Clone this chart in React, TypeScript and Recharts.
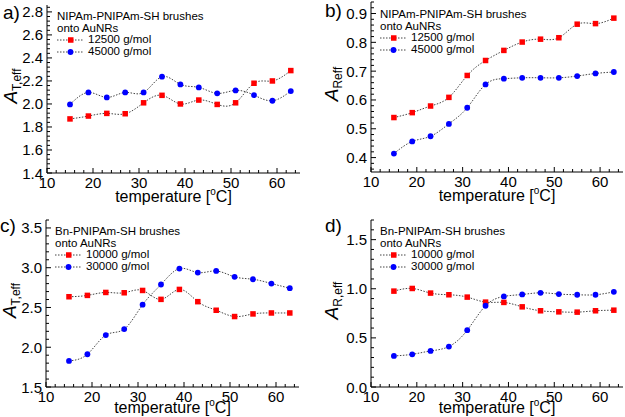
import React from 'react';
import { LineChart, Line, XAxis, YAxis, Legend } from 'recharts';

// temperature in °C, shared by all four panels
const temperature = [15, 19, 23, 27, 31, 35, 39, 43, 47, 51, 55, 59, 63];

// a) A_T,eff, NIPAm-PNIPAm-SH
const aLow = [1.87, 1.895, 1.918, 1.915, 2.01, 2.075, 2.0, 2.034, 1.996, 2.01, 2.18, 2.2, 2.29];
const aHigh = [1.996, 2.1, 2.057, 2.1, 2.1, 2.237, 2.17, 2.144, 2.092, 2.118, 2.077, 2.028, 2.112];
// b) A_R,eff, NIPAm-PNIPAm-SH
const bLow = [0.539, 0.556, 0.579, 0.609, 0.685, 0.737, 0.772, 0.801, 0.811, 0.816, 0.863, 0.865, 0.884];
const bHigh = [0.414, 0.456, 0.474, 0.517, 0.573, 0.654, 0.674, 0.677, 0.677, 0.677, 0.683, 0.692, 0.697];
// c) A_T,eff, Bn-PNIPAm-SH
const cLow = [2.635, 2.652, 2.689, 2.685, 2.714, 2.602, 2.727, 2.573, 2.465, 2.386, 2.419, 2.431, 2.431];
const cHigh = [1.828, 1.912, 2.153, 2.228, 2.535, 2.789, 2.989, 2.939, 2.959, 2.885, 2.855, 2.801, 2.743];
// d) A_R,eff, Bn-PNIPAm-SH
const dLow = [0.976, 1.003, 0.956, 0.939, 0.915, 0.864, 0.861, 0.816, 0.776, 0.765, 0.762, 0.776, 0.782];
const dHigh = [0.316, 0.333, 0.367, 0.412, 0.578, 0.827, 0.922, 0.942, 0.959, 0.946, 0.939, 0.939, 0.969];

const xMajor = [10, 20, 30, 40, 50, 60];
const aYMajor = [1.4, 1.6, 1.8, 2.0, 2.2, 2.4, 2.6, 2.8];
const bYMajor = [0.4, 0.5, 0.6, 0.7, 0.8, 0.9];
const cYMajor = [1.5, 2.0, 2.5, 3.0, 3.5];
const dYMajor = [0.0, 0.5, 1.0, 1.5];

const FONT = '"Liberation Sans", Arial, sans-serif';
const LINE_COLOR = '#444';
const RED = '#ff0000';
const BLUE = '#0000ff';
const X_DOMAIN: [number, number] = [10, 65];

function tickRange(lo: number, hi: number, step: number) {
    const out: number[] = [];
    const n0 = Math.ceil(lo / step - 1e-9);
    const n1 = Math.floor(hi / step + 1e-9);
    for (let n = n0; n <= n1; n++) out.push(+(n * step).toFixed(6));
    return out;
}

function isMajor(v: number, majors: number[]) {
    return majors.some(m => Math.abs(m - v) < 1e-6);
}

// inward ticks, labels only on left/bottom
function makeTick(side: string, majors: number[], fmt: (v: number) => string) {
    return (props: any) => {
        const { x, y, payload } = props;
        const v = payload.value;
        const major = isMajor(v, majors);
        const len = major ? 5 : 3;
        if (side === 'bottom') {
            return (
                <g>
                    <line x1={x} y1={y} x2={x} y2={y - len} stroke="#000" />
                    {major && (
                        <text x={x} y={y + 15} textAnchor="middle" fontSize={15} fontFamily={FONT} fill="#000">
                            {fmt(v)}
                        </text>
                    )}
                </g>
            );
        }
        if (side === 'top') {
            return <line x1={x} y1={y} x2={x} y2={y + len} stroke="#000" />;
        }
        if (side === 'left') {
            return (
                <g>
                    <line x1={x} y1={y} x2={x + len} y2={y} stroke="#000" />
                    {major && (
                        <text x={x - 4} y={y + 5.5} textAnchor="end" fontSize={15} fontFamily={FONT} fill="#000">
                            {fmt(v)}
                        </text>
                    )}
                </g>
            );
        }
        return <line x1={x} y1={y} x2={x - len} y2={y} stroke="#000" />;
    };
}

const renderSquare = (p: any) => (
    <rect key={`sq-${p.index}`} x={p.cx - 2.75} y={p.cy - 2.75} width={5.5} height={5.5} fill={RED} />
);
const renderCircle = (p: any) => <circle key={`ci-${p.index}`} cx={p.cx} cy={p.cy} r={2.9} fill={BLUE} />;

function PanelLegend(props: any) {
    const { title, payload } = props;
    return (
        <div style={{ fontFamily: FONT, fontSize: 11.5, lineHeight: '11.7px', color: '#000', whiteSpace: 'nowrap' }}>
            <div>{title}</div>
            <div>onto AuNRs</div>
            {(payload || []).map((entry: any) => (
                <div key={entry.value} style={{ display: 'flex', alignItems: 'center', height: 11.7 }}>
                    <svg width={27} height={10}>
                        <line x1={0} y1={5} x2={27} y2={5} stroke={LINE_COLOR} strokeDasharray="1.5 1.5" />
                        {entry.dataKey === 'low' ? (
                            <rect x={11} y={2.25} width={5.5} height={5.5} fill={RED} />
                        ) : (
                            <circle cx={13.5} cy={5} r={2.9} fill={BLUE} />
                        )}
                    </svg>
                    <span style={{ marginLeft: 4 }}>{entry.value}</span>
                </div>
            ))}
        </div>
    );
}

interface PanelProps {
    left: number;
    top: number;
    width: number;
    height: number;
    margin: { top: number; right: number; left: number; bottom: number };
    yAxisWidth: number;
    xAxisHeight: number;
    yDomain: [number, number];
    yMajor: number[];
    yMinorStep: number;
    low: number[];
    high: number[];
    lowName: string;
    highName: string;
    title: string;
    legendLeft: number;
    legendTop: number;
    ySub: string;
    yTitleX: number;
    xTitleDy: number;
}

function Panel(p: PanelProps) {
    const data = temperature.map((t, i) => ({ t, low: p.low[i], high: p.high[i] }));
    const xTicks = tickRange(X_DOMAIN[0], X_DOMAIN[1], 2);
    const yTicks = tickRange(p.yDomain[0], p.yDomain[1], p.yMinorStep);
    const fmtX = (v: number) => String(v);
    const fmtY = (v: number) => v.toFixed(1);
    const plotLeft = p.margin.left + p.yAxisWidth;
    const plotRight = p.width - p.margin.right;
    const plotTop = p.margin.top;
    const plotBottom = p.height - p.margin.bottom - p.xAxisHeight;

    const xTitle = () => (
        <text
            x={(plotLeft + plotRight) / 2}
            y={plotBottom + p.xTitleDy}
            textAnchor="middle"
            fontSize={16}
            fontFamily={FONT}
            fill="#000"
        >
            temperature [<tspan fontSize={10} dy={-7}>o</tspan>
            <tspan dy={7}>C]</tspan>
        </text>
    );
    const yTitle = () => {
        const cx = p.yTitleX;
        const cy = (plotTop + plotBottom) / 2 - 3;
        return (
            <text
                x={cx}
                y={cy}
                transform={`rotate(-90, ${cx}, ${cy})`}
                textAnchor="middle"
                fontSize={19}
                fontFamily={FONT}
                fill="#000"
            >
                <tspan fontStyle="italic">A</tspan>
                <tspan fontSize={12} dy={4}>
                    {p.ySub}
                </tspan>
            </text>
        );
    };

    return (
        <div style={{ position: 'absolute', left: p.left, top: p.top }}>
            <LineChart width={p.width} height={p.height} data={data} margin={p.margin}>
                <XAxis
                    dataKey="t"
                    type="number"
                    domain={X_DOMAIN}
                    allowDataOverflow
                    ticks={xTicks}
                    interval={0}
                    height={p.xAxisHeight}
                    tickSize={0}
                    tickMargin={0}
                    tickLine={false}
                    axisLine={{ stroke: '#000' }}
                    tick={makeTick('bottom', xMajor, fmtX)}
                    label={{ content: xTitle }}
                />
                <XAxis
                    xAxisId="top"
                    orientation="top"
                    dataKey="t"
                    type="number"
                    domain={X_DOMAIN}
                    allowDataOverflow
                    ticks={xTicks}
                    interval={0}
                    height={0}
                    tickSize={0}
                    tickMargin={0}
                    tickLine={false}
                    axisLine={{ stroke: '#000' }}
                    tick={makeTick('top', xMajor, fmtX)}
                />
                <YAxis
                    type="number"
                    domain={p.yDomain}
                    allowDataOverflow
                    ticks={yTicks}
                    interval={0}
                    width={p.yAxisWidth}
                    tickSize={0}
                    tickMargin={0}
                    tickLine={false}
                    axisLine={{ stroke: '#000' }}
                    tick={makeTick('left', p.yMajor, fmtY)}
                    label={{ content: yTitle }}
                />
                <YAxis
                    yAxisId="right"
                    orientation="right"
                    type="number"
                    domain={p.yDomain}
                    allowDataOverflow
                    ticks={yTicks}
                    interval={0}
                    width={0}
                    tickSize={0}
                    tickMargin={0}
                    tickLine={false}
                    axisLine={{ stroke: '#000' }}
                    tick={makeTick('right', p.yMajor, fmtY)}
                />
                <Legend
                    layout="horizontal"
                    verticalAlign="middle"
                    align="center"
                    wrapperStyle={{ left: p.legendLeft, top: p.legendTop, width: 'auto', height: 'auto' }}
                    content={(lp: any) => <PanelLegend title={p.title} payload={lp.payload} />}
                />
                <Line
                    dataKey="low"
                    name={p.lowName}
                    type="natural"
                    stroke={LINE_COLOR}
                    strokeWidth={1}
                    strokeDasharray="1.5 1.5"
                    dot={renderSquare}
                    activeDot={false}
                    isAnimationActive={false}
                />
                <Line
                    dataKey="high"
                    name={p.highName}
                    type="natural"
                    stroke={LINE_COLOR}
                    strokeWidth={1}
                    strokeDasharray="1.5 1.5"
                    dot={renderCircle}
                    activeDot={false}
                    isAnimationActive={false}
                />
            </LineChart>
        </div>
    );
}

export default function App() {
    return (
        <div
            style={{
                position: 'absolute',
                left: 0,
                top: 0,
                width: 625,
                height: 417,
                background: '#fff',
                overflow: 'hidden',
                fontFamily: FONT,
            }}
        >
            <Panel
                left={0}
                top={0}
                width={312}
                height={208}
                margin={{ top: 5, right: 12, left: 0, bottom: 0 }}
                yAxisWidth={47}
                xAxisHeight={35}
                yDomain={[1.4, 2.86]}
                yMajor={aYMajor}
                yMinorStep={0.04}
                low={aLow}
                high={aHigh}
                lowName="12500 g/mol"
                highName="45000 g/mol"
                title="NIPAm-PNIPAm-SH brushes"
                legendLeft={57}
                legendTop={11}
                ySub="T,eff"
                yTitleX={17}
                xTitleDy={29}
            />
            <Panel
                left={312}
                top={0}
                width={313}
                height={208}
                margin={{ top: 2, right: 2, left: 0, bottom: 0 }}
                yAxisWidth={59}
                xAxisHeight={36}
                yDomain={[0.35, 0.94]}
                yMajor={bYMajor}
                yMinorStep={0.02}
                low={bLow}
                high={bHigh}
                lowName="12500 g/mol"
                highName="45000 g/mol"
                title="NIPAm-PNIPAm-SH brushes"
                legendLeft={68}
                legendTop={9}
                ySub="Reff"
                yTitleX={26}
                xTitleDy={29}
            />
            <Panel
                left={0}
                top={208}
                width={312}
                height={209}
                margin={{ top: 12, right: 13, left: 0, bottom: 0 }}
                yAxisWidth={46}
                xAxisHeight={30}
                yDomain={[1.5, 3.6]}
                yMajor={cYMajor}
                yMinorStep={0.1}
                low={cLow}
                high={cHigh}
                lowName="10000 g/mol"
                highName="30000 g/mol"
                title="Bn-PNIPAm-SH brushes"
                legendLeft={55}
                legendTop={18}
                ySub="T,eff"
                yTitleX={16}
                xTitleDy={26}
            />
            <Panel
                left={312}
                top={208}
                width={313}
                height={209}
                margin={{ top: 12, right: 2, left: 0, bottom: 0 }}
                yAxisWidth={59}
                xAxisHeight={30}
                yDomain={[0, 1.7]}
                yMajor={dYMajor}
                yMinorStep={0.1}
                low={dLow}
                high={dHigh}
                lowName="10000 g/mol"
                highName="30000 g/mol"
                title="Bn-PNIPAm-SH brushes"
                legendLeft={68}
                legendTop={18}
                ySub="R,eff"
                yTitleX={26}
                xTitleDy={26}
            />
            <svg
                width={625}
                height={417}
                style={{ position: 'absolute', left: 0, top: 0, pointerEvents: 'none' }}
            >
                <text x={3} y={19} fontSize={19} fontFamily={FONT} fill="#000">
                    a)
                </text>
                <text x={325} y={17} fontSize={19} fontFamily={FONT} fill="#000">
                    b)
                </text>
                <text x={0} y={232} fontSize={19} fontFamily={FONT} fill="#000">
                    c)
                </text>
                <text x={325} y={232} fontSize={19} fontFamily={FONT} fill="#000">
                    d)
                </text>
            </svg>
        </div>
    );
}
